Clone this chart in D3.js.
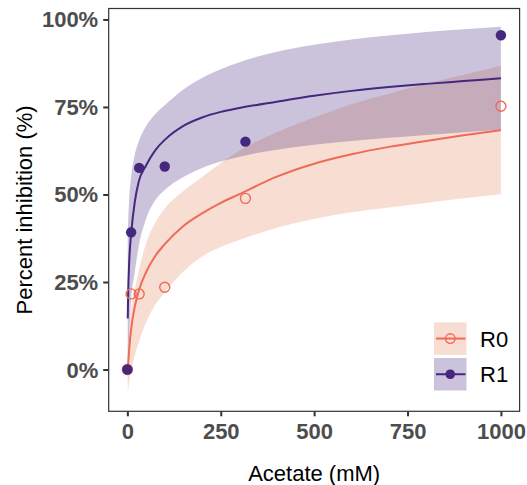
<!DOCTYPE html>
<html>
<head>
<meta charset="utf-8">
<script src="https://cdn.jsdelivr.net/npm/d3@7"></script>
<style>
  html, body { margin: 0; padding: 0; background: #fff; }
  svg { display: block; }
</style>
</head>
<body>
<svg id="chart" width="527" height="485"></svg>
<script>
// Measured inhibition at each acetate concentration (mM)
const conc = [0, 10, 31.6, 100, 316, 1000];
const r0Obs = [0, 21.6, 21.6, 23.5, 48.9, 75.2];
const r1Obs = [0, 39.2, 57.6, 58.0, 65.1, 95.5];

// Fitted dose-response curves with their confidence bands
const fitX  = [1, 2, 5, 10, 20, 30, 50, 75, 100, 150, 200, 250, 300, 400, 500, 600, 700, 800, 900, 1000];
const r0Fit = [0.3, 1.5, 6, 11.5, 18, 22.3, 27.8, 32.5, 35.8, 41, 44.6, 47.6, 50.1, 55.1, 58.8, 61.5, 63.6, 65.3, 66.9, 68.4];
const r0Lo  = [-6.7, -5.9, -3.2, -0.5, 4, 7.5, 13.5, 18.5, 22, 28, 32.3, 35, 37, 40.5, 43, 44.9, 46.3, 47.6, 48.9, 50.1];
const r0Hi  = [7, 9, 13, 17.5, 23, 28, 36, 42, 46, 51, 55, 59, 62.5, 67.8, 72, 75.8, 78.8, 81.6, 84.2, 86.8];
const r1Fit = [14.6, 21, 31, 38.7, 48, 53.5, 58.3, 62.7, 65.6, 69.6, 72, 73.6, 74.7, 76.5, 78.2, 79.6, 80.7, 81.6, 82.4, 83.2];
const r1Lo  = [-4, 2, 11, 20, 28, 35, 43, 48.4, 51.3, 55, 57.6, 59.4, 60.8, 62.8, 64.2, 65.3, 66.2, 67, 67.8, 68.5];
const r1Hi  = [38, 42, 49, 55, 61.5, 65, 69.5, 73, 75.5, 80, 83.3, 85.8, 87.8, 90.8, 92.8, 94.3, 95.4, 96.4, 97.2, 97.9];

const groups = ["R0", "R1"];
const xTicks = [0, 250, 500, 750, 1000];
const yTicks = [0, 25, 50, 75, 100];

const lineColor = { R0: "#EE6A59", R1: "#45277D" };
const bandColor = { R0: "#E5885F", R1: "#45277D" };
const bandAlpha = 0.28;

const panel = { left: 108.7, right: 519.6, top: 8.5, bottom: 411.3 };

// Axis limits with a 5% expansion around the data range
const allY = [].concat(r0Obs, r1Obs, r0Lo, r0Hi, r1Lo, r1Hi);
const yMin = d3.min(allY), yMax = d3.max(allY);
const yPad = (yMax - yMin) * 0.05;
const xPad = (d3.max(conc) - d3.min(conc)) * 0.05;

const x = d3.scaleLinear().domain([d3.min(conc) - xPad, d3.max(conc) + xPad]).range([panel.left, panel.right]);
const y = d3.scaleLinear().domain([yMin - yPad, yMax + yPad]).range([panel.bottom, panel.top]);

const svg = d3.select("#chart");
const font = "'Liberation Sans', Arial, Helvetica, sans-serif";

const series = {
  R0: { fit: r0Fit, lo: r0Lo, hi: r0Hi, obs: r0Obs },
  R1: { fit: r1Fit, lo: r1Lo, hi: r1Hi, obs: r1Obs }
};

const area = d3.area()
  .x((d, i) => x(fitX[i]))
  .y0(d => y(d[0]))
  .y1(d => y(d[1]))
  .curve(d3.curveMonotoneX);

const line = d3.line()
  .x((d, i) => x(fitX[i]))
  .y(d => y(d))
  .curve(d3.curveMonotoneX);

// Confidence bands
groups.forEach(g => {
  const s = series[g];
  svg.append("path")
    .datum(s.lo.map((v, i) => [v, s.hi[i]]))
    .attr("d", area)
    .attr("fill", bandColor[g])
    .attr("fill-opacity", bandAlpha);
});

// Fitted curves
groups.forEach(g => {
  svg.append("path")
    .datum(series[g].fit)
    .attr("d", line)
    .attr("fill", "none")
    .attr("stroke", lineColor[g])
    .attr("stroke-width", 2);
});

// Observed points: R0 hollow, R1 filled
svg.append("g").selectAll("circle")
  .data(conc.map((c, i) => [c, r0Obs[i]]))
  .join("circle")
  .attr("cx", d => x(d[0]))
  .attr("cy", d => y(d[1]))
  .attr("r", 5)
  .attr("fill", "none")
  .attr("stroke", lineColor.R0)
  .attr("stroke-width", 1.4);

svg.append("g").selectAll("circle")
  .data(conc.map((c, i) => [c, r1Obs[i]]))
  .join("circle")
  .attr("cx", d => x(d[0]))
  .attr("cy", d => y(d[1]))
  .attr("r", 5.2)
  .attr("fill", lineColor.R1);

// Panel border
svg.append("rect")
  .attr("x", panel.left).attr("y", panel.top)
  .attr("width", panel.right - panel.left)
  .attr("height", panel.bottom - panel.top)
  .attr("fill", "none")
  .attr("stroke", "#333333")
  .attr("stroke-width", 1.2);

// Axes
function styleAxis(g) {
  g.select(".domain").remove();
  g.selectAll(".tick line").attr("stroke", "#333333").attr("stroke-width", 2);
  g.selectAll(".tick text")
    .attr("fill", "#4D4D4D")
    .style("font-family", font)
    .style("font-size", "22px")
    .style("font-weight", "bold");
}

svg.append("g")
  .attr("transform", `translate(${panel.left},0)`)
  .call(d3.axisLeft(y).tickValues(yTicks).tickSize(5.5).tickPadding(5).tickFormat(d => d + "%"))
  .call(styleAxis)
  .selectAll(".tick text").attr("dy", "0.34em");

svg.append("g")
  .attr("transform", `translate(0,${panel.bottom})`)
  .call(d3.axisBottom(x).tickValues(xTicks).tickSize(5).tickPadding(7.4).tickFormat(d3.format("d")))
  .call(styleAxis);

// Axis titles
svg.append("text")
  .attr("x", (panel.left + panel.right) / 2)
  .attr("y", 480.5)
  .attr("text-anchor", "middle")
  .style("font-family", font)
  .style("font-size", "22px")
  .attr("fill", "#000")
  .text("Acetate (mM)");

svg.append("text")
  .attr("transform", `translate(31.5,${(panel.top + panel.bottom) / 2}) rotate(-90)`)
  .attr("text-anchor", "middle")
  .style("font-family", font)
  .style("font-size", "22px")
  .attr("fill", "#000")
  .text("Percent inhibition (%)");

// Legend
const legend = svg.append("g").attr("transform", "translate(434,322.3)");
const keySize = 32.5, keyGap = 3.2;
groups.forEach((g, i) => {
  const k = legend.append("g").attr("transform", `translate(0,${i * (keySize + keyGap)})`);
  k.append("rect")
    .attr("width", keySize).attr("height", keySize)
    .attr("fill", bandColor[g]).attr("fill-opacity", bandAlpha);
  k.append("line")
    .attr("x1", 2).attr("x2", keySize - 1)
    .attr("y1", keySize / 2).attr("y2", keySize / 2)
    .attr("stroke", lineColor[g]).attr("stroke-width", 2);
  const c = k.append("circle")
    .attr("cx", keySize / 2).attr("cy", keySize / 2).attr("r", 4.8);
  if (g === "R0") {
    c.attr("fill", "none").attr("stroke", lineColor[g]).attr("stroke-width", 1.4);
  } else {
    c.attr("fill", lineColor[g]);
  }
  k.append("text")
    .attr("x", 46).attr("y", keySize / 2 + 8)
    .style("font-family", font)
    .style("font-size", "22px")
    .attr("fill", "#000")
    .text(g);
});
</script>
</body>
</html>
